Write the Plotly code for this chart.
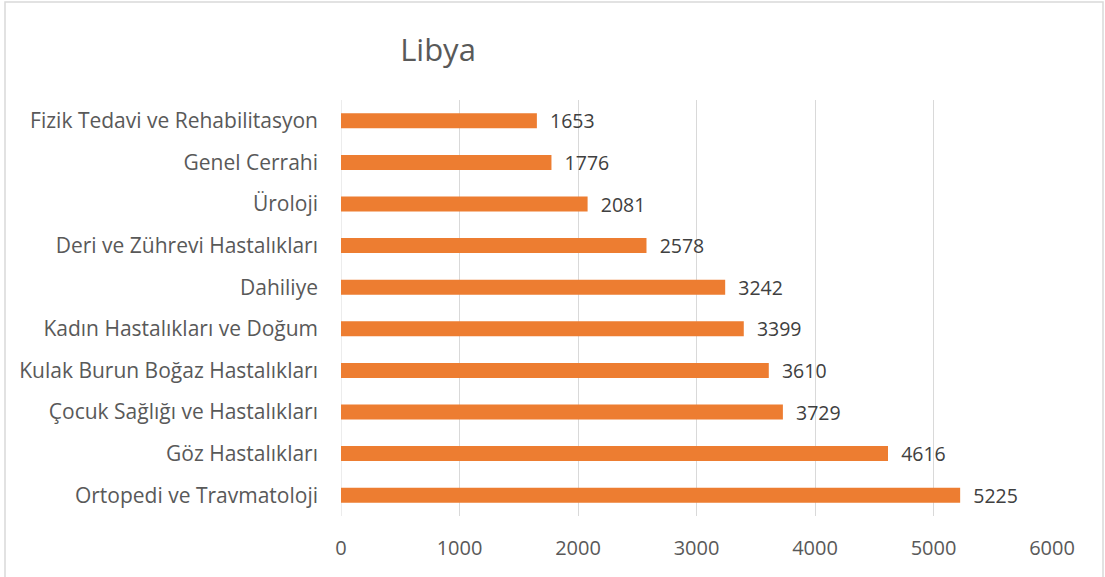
import plotly.graph_objects as go

categories = [
    "Ortopedi ve Travmatoloji",
    "Göz Hastalıkları",
    "Çocuk Sağlığı ve Hastalıkları",
    "Kulak Burun Boğaz Hastalıkları",
    "Kadın Hastalıkları ve Doğum",
    "Dahiliye",
    "Deri ve Zührevi Hastalıkları",
    "Üroloji",
    "Genel Cerrahi",
    "Fizik Tedavi ve Rehabilitasyon",
]
values = [5225, 4616, 3729, 3610, 3399, 3242, 2578, 2081, 1776, 1653]
x_ticks = [0, 1000, 2000, 3000, 4000, 5000, 6000]

FONT = "Open Sans"
GRAY = "#595959"

fig = go.Figure(go.Bar(
    y=categories,
    x=values,
    orientation="h",
    marker=dict(color="#ED7D31", line=dict(width=0)),
    width=0.36,
    text=[f"\u00a0\u00a0{v}" for v in values],
    textposition="outside",
    constraintext="none",
    textfont=dict(family=FONT, size=19.5, color="#404040"),
    cliponaxis=False,
))

fig.update_layout(
    width=1105,
    height=577,
    margin=dict(l=341, r=53, t=100, b=61),
    paper_bgcolor="white",
    plot_bgcolor="white",
    showlegend=False,
    title=dict(
        text="Libya",
        x=438 / 1105,
        xanchor="center",
        y=1 - 50 / 577,
        yanchor="middle",
        font=dict(family=FONT, size=31, color=GRAY),
    ),
    xaxis=dict(
        range=[0, 6000],
        tickvals=x_ticks,
        ticktext=[str(t) for t in x_ticks],
        showgrid=True,
        gridcolor="#D9D9D9",
        gridwidth=1,
        zeroline=False,
        showline=False,
        ticks="",
        ticklabelstandoff=18,
        tickfont=dict(family=FONT, size=20, color=GRAY),
    ),
    yaxis=dict(
        categoryorder="array",
        categoryarray=categories,
        showgrid=False,
        zeroline=False,
        showline=False,
        ticks="",
        ticklabelstandoff=22,
        tickfont=dict(family=FONT, size=21, color=GRAY),
    ),
    shapes=[
        dict(type="rect", xref="paper", yref="paper",
             x0=-(341 - 5) / 711, x1=1 + (1103 - 1052) / 711,
             y0=-(577 - 516 + 3) / 416, y1=1 + (100 - 2) / 416,
             line=dict(color="#D9D9D9", width=1.5), layer="below"),
        dict(type="line", xref="x", yref="paper", x0=0, x1=0, y0=0, y1=1,
             line=dict(color="#D9D9D9", width=1), layer="below"),
    ],
)

fig.write_html("out.html")
